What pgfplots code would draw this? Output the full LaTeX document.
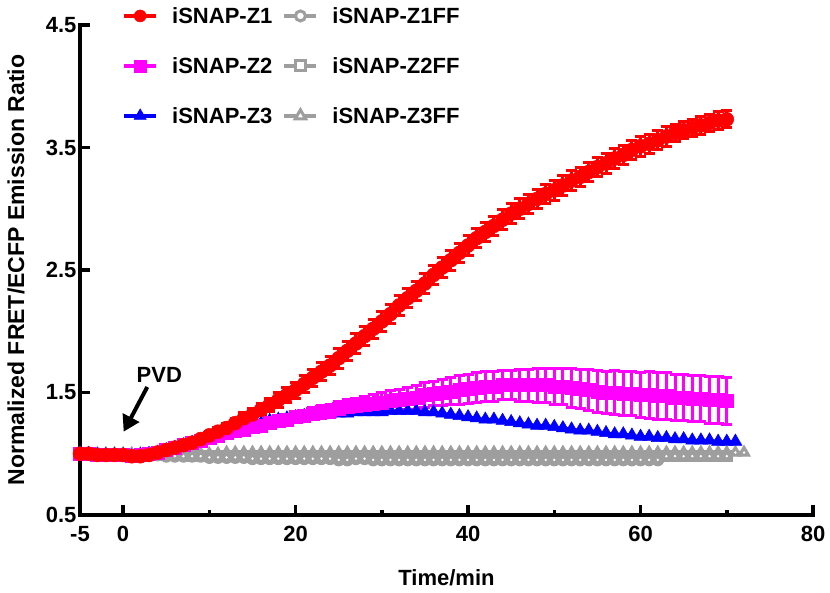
\documentclass[border=0pt]{standalone}
\usepackage{fontspec}
\setmainfont{Liberation Sans}
\usepackage{pgfplots}
\pgfplotsset{compat=1.18}
\usepackage{pgfplotstable}
\usetikzlibrary{arrows.meta}
\definecolor{zred}{RGB}{255,0,0}
\definecolor{zmag}{RGB}{255,0,255}
\definecolor{zblue}{RGB}{0,0,255}
\definecolor{zgray}{RGB}{158,158,158}
\newcommand{\ff}{\fontsize{22}{26}\selectfont\bfseries}

% iSNAP-Z1: time, mean, SEM
\pgfplotstableread{
t y e
-5 1.00 0.01
-4 1.00 0.01
-3 0.99 0.01
-2 0.99 0.01
-1 0.99 0.01
0 0.99 0.01
1 0.98 0.01
2 0.98 0.01
3 0.99 0.01
4 1.01 0.01
5 1.03 0.015
6 1.05 0.02
7 1.07 0.02
8 1.09 0.025
9 1.12 0.03
10 1.15 0.03
11 1.18 0.035
12 1.21 0.04
13 1.25 0.04
14 1.29 0.045
15 1.32 0.05
16 1.36 0.05
17 1.40 0.055
18 1.44 0.06
19 1.48 0.06
20 1.52 0.065
21 1.57 0.07
22 1.62 0.07
23 1.67 0.075
24 1.72 0.075
25 1.78 0.08
26 1.84 0.08
27 1.90 0.08
28 1.96 0.08
29 2.02 0.08
30 2.08 0.08
31 2.14 0.08
32 2.21 0.08
33 2.27 0.08
34 2.33 0.08
35 2.39 0.08
36 2.46 0.08
37 2.52 0.08
38 2.58 0.08
39 2.64 0.08
40 2.70 0.08
41 2.76 0.08
42 2.81 0.08
43 2.86 0.08
44 2.91 0.08
45 2.96 0.08
46 3.00 0.08
47 3.04 0.08
48 3.08 0.08
49 3.12 0.08
50 3.15 0.08
51 3.19 0.08
52 3.23 0.08
53 3.26 0.08
54 3.30 0.08
55 3.34 0.08
56 3.37 0.08
57 3.41 0.08
58 3.44 0.08
59 3.48 0.08
60 3.51 0.08
61 3.53 0.08
62 3.56 0.08
63 3.59 0.08
64 3.62 0.07
65 3.64 0.07
66 3.66 0.07
67 3.68 0.07
68 3.70 0.07
69 3.72 0.07
70 3.73 0.07
}\zone

% iSNAP-Z2
\pgfplotstableread{
t y e
-5 1.00 0.01
-4 1.00 0.01
-3 0.99 0.01
-2 0.99 0.01
-1 0.99 0.01
0 0.99 0.01
1 0.98 0.01
2 0.99 0.01
3 1.00 0.01
4 1.01 0.01
5 1.03 0.01
6 1.05 0.015
7 1.07 0.015
8 1.09 0.015
9 1.11 0.02
10 1.13 0.02
11 1.15 0.02
12 1.17 0.025
13 1.19 0.025
14 1.20 0.03
15 1.22 0.03
16 1.23 0.035
17 1.25 0.035
18 1.27 0.04
19 1.28 0.04
20 1.30 0.045
21 1.31 0.045
22 1.33 0.05
23 1.34 0.055
24 1.35 0.055
25 1.37 0.06
26 1.38 0.065
27 1.39 0.065
28 1.40 0.07
29 1.41 0.075
30 1.42 0.08
31 1.43 0.085
32 1.44 0.085
33 1.45 0.09
34 1.46 0.095
35 1.48 0.10
36 1.49 0.10
37 1.50 0.105
38 1.51 0.11
39 1.52 0.115
40 1.53 0.12
41 1.54 0.12
42 1.55 0.12
43 1.55 0.12
44 1.56 0.12
45 1.56 0.12
46 1.56 0.13
47 1.56 0.13
48 1.56 0.14
49 1.56 0.14
50 1.55 0.15
51 1.55 0.15
52 1.54 0.16
53 1.53 0.16
54 1.52 0.17
55 1.51 0.17
56 1.50 0.17
57 1.50 0.18
58 1.49 0.18
59 1.49 0.18
60 1.48 0.18
61 1.48 0.19
62 1.47 0.19
63 1.47 0.19
64 1.46 0.19
65 1.46 0.19
66 1.45 0.19
67 1.45 0.19
68 1.44 0.19
69 1.44 0.19
70 1.43 0.19
}\ztwo

% iSNAP-Z3
\pgfplotstableread{
t y
-5 1.00
-4 1.00
-3 0.99
-2 0.99
-1 0.99
0 0.99
1 0.98
2 0.99
3 1.00
4 1.01
5 1.03
6 1.05
7 1.07
8 1.09
9 1.11
10 1.13
11 1.15
12 1.17
13 1.20
14 1.22
15 1.24
16 1.25
17 1.27
18 1.28
19 1.29
20 1.30
21 1.31
22 1.32
23 1.32
24 1.33
25 1.33
26 1.33
27 1.34
28 1.34
29 1.34
30 1.34
31 1.35
32 1.35
33 1.35
34 1.35
35 1.34
36 1.34
37 1.33
38 1.32
39 1.31
40 1.30
41 1.29
42 1.28
43 1.28
44 1.27
45 1.26
46 1.25
47 1.24
48 1.23
49 1.23
50 1.22
51 1.21
52 1.20
53 1.19
54 1.19
55 1.18
56 1.17
57 1.16
58 1.16
59 1.15
60 1.14
61 1.14
62 1.13
63 1.13
64 1.12
65 1.12
66 1.11
67 1.11
68 1.11
69 1.10
70 1.10
71 1.10
}\zthree

% iSNAP-Z1FF
\pgfplotstableread{
t y
-5 1.00
-4 1.00
-3 1.00
-2 0.99
-1 0.99
0 0.99
1 0.99
2 0.99
3 0.99
4 0.99
5 0.98
6 0.98
7 0.98
8 0.98
9 0.98
10 0.97
11 0.97
12 0.97
13 0.97
14 0.97
15 0.96
16 0.96
17 0.96
18 0.96
19 0.96
20 0.96
21 0.96
22 0.96
23 0.96
24 0.96
25 0.95
26 0.95
27 0.96
28 0.96
29 0.95
30 0.95
31 0.95
32 0.95
33 0.95
34 0.95
35 0.95
36 0.95
37 0.95
38 0.95
39 0.95
40 0.95
41 0.95
42 0.95
43 0.95
44 0.95
45 0.95
46 0.95
47 0.95
48 0.95
49 0.95
50 0.95
51 0.95
52 0.95
53 0.95
54 0.95
55 0.95
56 0.95
57 0.95
58 0.95
59 0.95
60 0.95
61 0.95
62 0.95
}\zoneff

% iSNAP-Z2FF
\pgfplotstableread{
t y
-5 1.00
-4 1.00
-3 0.99
-2 0.99
-1 0.99
0 0.99
1 0.99
2 0.99
3 0.99
4 0.99
5 0.99
6 0.99
7 0.99
8 0.98
9 0.98
10 0.98
11 0.98
12 0.98
13 0.98
14 0.98
15 0.98
16 0.98
17 0.98
18 0.98
19 0.98
20 0.98
21 0.98
22 0.98
23 0.98
24 0.98
25 0.98
26 0.98
27 0.98
28 0.98
29 0.98
30 0.98
31 0.98
32 0.98
33 0.98
34 0.98
35 0.98
36 0.98
37 0.98
38 0.98
39 0.98
40 0.98
41 0.98
42 0.98
43 0.98
44 0.98
45 0.98
46 0.98
47 0.98
48 0.98
49 0.98
50 0.98
51 0.98
52 0.98
53 0.98
54 0.98
55 0.98
56 0.98
57 0.98
58 0.98
59 0.98
60 0.98
61 0.98
62 0.98
63 0.98
64 0.98
65 0.98
66 0.98
67 0.98
68 0.98
69 0.98
70 0.98
}\ztwoff

% iSNAP-Z3FF
\pgfplotstableread{
t y
-5 1.00
-4 1.00
-3 1.00
-2 1.00
-1 1.00
0 1.00
1 1.00
2 1.00
3 1.00
4 1.00
5 1.00
6 1.00
7 1.00
8 1.00
9 1.00
10 1.00
11 1.00
12 1.01
13 1.01
14 1.01
15 1.01
16 1.01
17 1.01
18 1.01
19 1.01
20 1.01
21 1.01
22 1.01
23 1.01
24 1.01
25 1.01
26 1.01
27 1.01
28 1.01
29 1.01
30 1.01
31 1.01
32 1.01
33 1.01
34 1.01
35 1.01
36 1.01
37 1.01
38 1.01
39 1.01
40 1.01
41 1.01
42 1.01
43 1.01
44 1.01
45 1.01
46 1.01
47 1.01
48 1.01
49 1.01
50 1.01
51 1.01
52 1.01
53 1.01
54 1.01
55 1.01
56 1.01
57 1.01
58 1.01
59 1.01
60 1.01
61 1.01
62 1.01
63 1.01
64 1.01
65 1.01
66 1.01
67 1.01
68 1.01
69 1.01
70 1.01
71 1.01
72 1.01
}\zthreeff

\begin{document}
\begin{tikzpicture}
\begin{axis}[
  scale only axis, width=733pt, height=490pt,
  xmin=-5, xmax=80, ymin=0.5, ymax=4.5,
  axis x line*=bottom, axis y line*=left,
  axis line style={-, line width=3.5pt, line cap=rect},
  tick align=inside,
  xtick={-5,0,20,40,60,80}, xticklabels={-5,0,20,40,60,80},
  minor xtick={10,30,50,70},
  ytick={0.5,1.5,2.5,3.5,4.5}, yticklabels={0.5,1.5,2.5,3.5,4.5},
  major tick length=10pt, minor tick length=5pt,
  tick style={line width=3.5pt, black},
  ticklabel style={font=\ff},
  xticklabel style={yshift=-8pt},
  xlabel={Time/min}, ylabel={Normalized FRET/ECFP Emission Ratio},
  xlabel style={font=\ff, at={(axis description cs:0.5,-0.1286)}, anchor=center},
  ylabel style={font=\fontsize{23}{27}\selectfont\bfseries, at={(axis description cs:-0.0873,0.5)}, anchor=center},
  clip=false,
  legend columns=2,
  legend cell align=left,
  legend style={at={(axis description cs:0.0573,1.0367)}, anchor=north west, draw=none, fill=none, inner sep=0pt,
    font=\ff, row sep=32.5pt,
    nodes={inner sep=0pt},
    /tikz/every odd column/.append style={column sep=14pt},
    /tikz/every even column/.append style={column sep=10pt}},
  legend image code/.code={\draw[mark repeat=2, mark phase=2] plot coordinates {(0pt,0pt) (16pt,0pt) (32pt,0pt)};},
]
% grey controls
\addplot[forget plot, zgray, line width=4pt, mark=triangle*, mark size=7pt, mark options={fill=zgray, draw=zgray, line width=1pt}] table[x=t,y=y] {\zthreeff};
\addplot[forget plot, only marks, white, mark=*, mark size=1pt, mark options={fill=white, draw=white}] table[x=t,y=y] {\zthreeff};
\addplot[forget plot, zgray, line width=4pt, mark=square*, mark size=5.5pt, mark options={fill=zgray, draw=zgray, line width=1pt}] table[x=t,y=y] {\ztwoff};
\addplot[forget plot, only marks, white, mark=*, mark size=1pt, mark options={fill=white, draw=white}] table[x=t,y=y] {\ztwoff};
\addplot[forget plot, zgray, line width=4pt, mark=*, mark size=6pt, mark options={fill=zgray, draw=zgray, line width=1pt}] table[x=t,y=y] {\zoneff};
\addplot[forget plot, only marks, white, mark=*, mark size=1pt, mark options={fill=white, draw=white}] table[x=t,y=y] {\zoneff};
% Z3
\addplot[forget plot, zblue, line width=3pt, mark=triangle*, mark size=7.5pt, mark options={fill=zblue, draw=zblue, line width=0.5pt}] table[x=t,y=y] {\zthree};
% Z2
\addplot[forget plot, zmag, line width=3pt, mark=square*, mark size=6.5pt, mark options={fill=zmag, draw=zmag, line width=0.5pt},
  error bars/.cd, y dir=both, y explicit, error bar style={line width=3pt, zmag}, error mark options={rotate=90, line width=3pt, mark size=5.5pt, zmag}]
  table[x=t,y=y,y error=e] {\ztwo};
% Z1
\addplot[forget plot, zred, line width=3pt, mark=*, mark size=7pt, mark options={fill=zred, draw=zred, line width=0.5pt},
  error bars/.cd, y dir=both, y explicit, error bar style={line width=3pt, zred}, error mark options={rotate=90, line width=3pt, mark size=5.5pt, zred}]
  table[x=t,y=y,y error=e] {\zone};

\addlegendimage{zred, line width=4pt, mark=*, mark size=6pt, mark options={fill=zred, draw=zred, line width=0.5pt}}
\addlegendentry{iSNAP-Z1}
\addlegendimage{zgray, line width=4pt, mark=*, mark size=5pt, mark options={fill=white, draw=zgray, line width=3pt}}
\addlegendentry{iSNAP-Z1FF}
\addlegendimage{zmag, line width=4pt, mark=square*, mark size=6pt, mark options={fill=zmag, draw=zmag, line width=0.5pt}}
\addlegendentry{iSNAP-Z2}
\addlegendimage{zgray, line width=4pt, mark=square*, mark size=5pt, mark options={fill=white, draw=zgray, line width=3pt}}
\addlegendentry{iSNAP-Z2FF}
\addlegendimage{zblue, line width=4pt, mark=triangle*, mark size=7pt, mark options={fill=zblue, draw=zblue, line width=0.5pt}}
\addlegendentry{iSNAP-Z3}
\addlegendimage{zgray, line width=4pt, mark=triangle*, mark size=6pt, mark options={fill=white, draw=zgray, line width=3pt}}
\addlegendentry{iSNAP-Z3FF}

\node[font=\ff] at (axis cs:4.2,1.64) {PVD};
\draw[line width=4pt, -{Triangle[length=16pt, width=18pt]}] (axis cs:2.8,1.545) -- (axis cs:0.06,1.18);
\end{axis}
\path (-80pt,-77pt) rectangle (750pt,515pt);
\end{tikzpicture}
\end{document}
